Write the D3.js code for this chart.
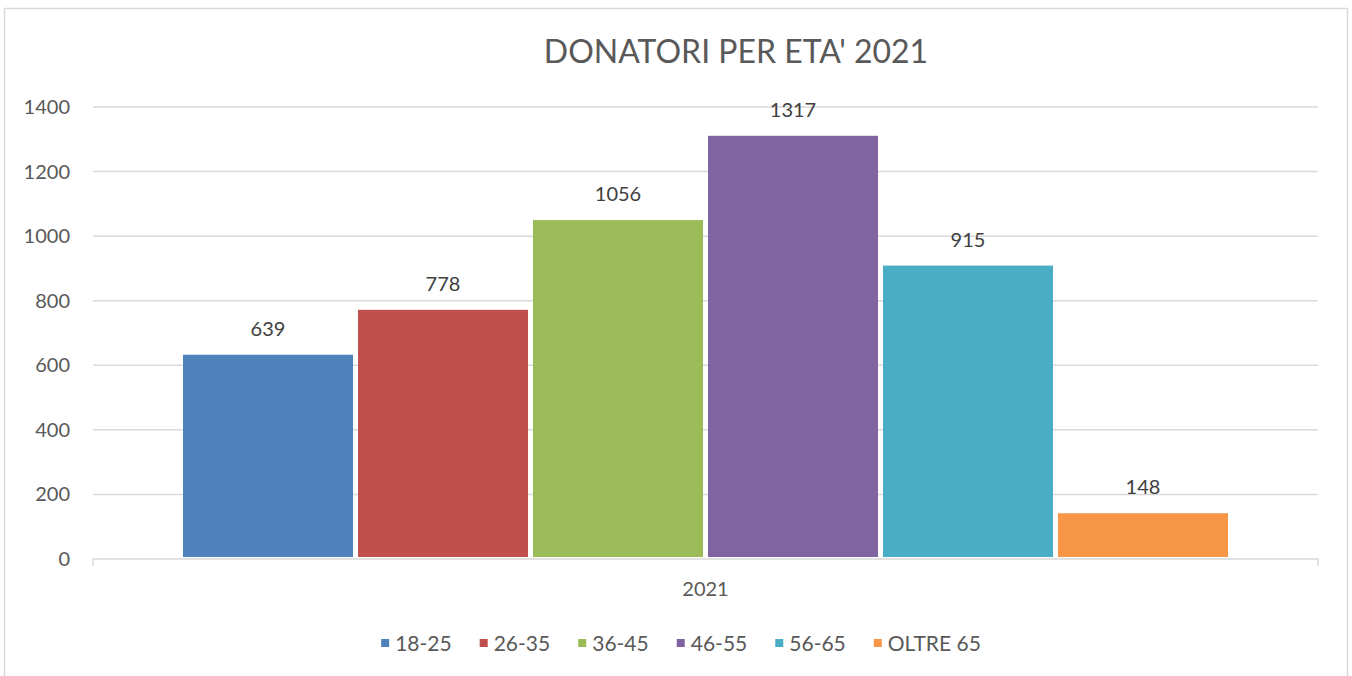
<!doctype html>
<html lang="it">
<head>
  <meta charset="utf-8">
  <title>DONATORI PER ETA' 2021</title>
  <script src="https://d3js.org/d3.v7.min.js"></script>
  <style>
    body { margin: 0; background: #fff; }
    svg { display: block; font-family: Lato, "Noto Sans", sans-serif; }
  </style>
</head>
<body>
  <div class="canva"></div>
  <script>
    // data
    const years = ["2021"]
    const ageGroups = ["18-25", "26-35", "36-45", "46-55", "56-65", "OLTRE 65"]
    const donors = [639, 778, 1056, 1317, 915, 148]
    const colors = ["#4f81bd", "#c0504d", "#9bbb59", "#8064a2", "#4bacc6", "#f79646"]
    const yTicks = [0, 200, 400, 600, 800, 1000, 1200, 1400]

    const W = 1352, H = 676
    const plotLeft = 93, plotRight = 1318, plotTop = 107, plotBottom = 559

    const svg = d3.select(".canva").append("svg")
      .attr("width", W)
      .attr("height", H)

    // chart frame
    svg.append("rect")
      .attr("x", 4.5).attr("y", 8.5)
      .attr("width", 1343).attr("height", 700)
      .attr("fill", "none")
      .attr("stroke", "#d9d9d9")
      .attr("stroke-width", 1.5)

    svg.append("text")
      .text("DONATORI PER ETA' 2021")
      .attr("x", 736)
      .attr("y", 63)
      .attr("text-anchor", "middle")
      .attr("font-size", 32)
      .attr("fill", "#595959")

    const y = d3.scaleLinear().domain([0, 1400]).range([plotBottom, plotTop])

    const x0 = d3.scaleBand().domain(years).range([plotLeft, plotRight])
      .paddingInner(0).paddingOuter(90 / 1045)

    const x1 = d3.scaleBand().domain(ageGroups).range([0, x0.bandwidth()])
      .paddingInner(5 / 175).paddingOuter(0)

    // gridlines
    svg.append("g").selectAll("line")
      .data(yTicks.filter(d => d > 0))
      .enter().append("line")
      .attr("x1", plotLeft).attr("x2", plotRight)
      .attr("y1", d => y(d)).attr("y2", d => y(d))
      .attr("stroke", "#d9d9d9")
      .attr("stroke-width", 1.5)

    // y labels
    svg.append("g").selectAll("text")
      .data(yTicks)
      .enter().append("text")
      .text(d => d)
      .attr("x", 70)
      .attr("y", d => y(d) + 7)
      .attr("text-anchor", "end")
      .attr("font-size", 20)
      .attr("fill", "#595959")

    const g = svg.append("g").attr("transform", "translate(" + x0("2021") + ",2)")

    g.selectAll("rect")
      .data(donors)
      .enter().append("rect")
      .attr("x", (d, i) => x1(ageGroups[i]))
      .attr("y", d => y(d))
      .attr("width", x1.bandwidth())
      .attr("height", d => plotBottom - 4 - y(d))
      .attr("fill", (d, i) => colors[i])

    g.selectAll("text")
      .data(donors)
      .enter().append("text")
      .text(d => d)
      .attr("x", (d, i) => x1(ageGroups[i]) + x1.bandwidth() / 2)
      .attr("y", d => y(d) - 19)
      .attr("text-anchor", "middle")
      .attr("font-size", 20)
      .attr("fill", "#404040")

    // x axis line with end ticks
    svg.append("path")
      .attr("d", "M" + plotLeft + "," + (plotBottom + 7) + "V" + plotBottom + "H" + plotRight + "V" + (plotBottom + 7))
      .attr("fill", "none")
      .attr("stroke", "#d9d9d9")
      .attr("stroke-width", 1.5)

    svg.append("text")
      .text(years[0])
      .attr("x", x0("2021") + x0.bandwidth() / 2)
      .attr("y", 596)
      .attr("text-anchor", "middle")
      .attr("font-size", 20)
      .attr("fill", "#595959")

    // legend
    const legend = svg.append("g")
    let lx = 0
    ageGroups.forEach(function (name, i) {
      const item = legend.append("g").attr("transform", "translate(" + lx + ",0)")
      item.append("rect")
        .attr("x", 0).attr("y", -12)
        .attr("width", 8).attr("height", 8)
        .attr("fill", colors[i])
      const t = item.append("text")
        .text(name)
        .attr("x", 14).attr("y", 0)
        .attr("font-size", 21)
        .attr("fill", "#595959")
      lx += 14 + t.node().getComputedTextLength() + 28
    })
    const legendWidth = lx - 28
    legend.attr("transform", "translate(" + (681 - legendWidth / 2) + ",651)")
  </script>
</body>
</html>
